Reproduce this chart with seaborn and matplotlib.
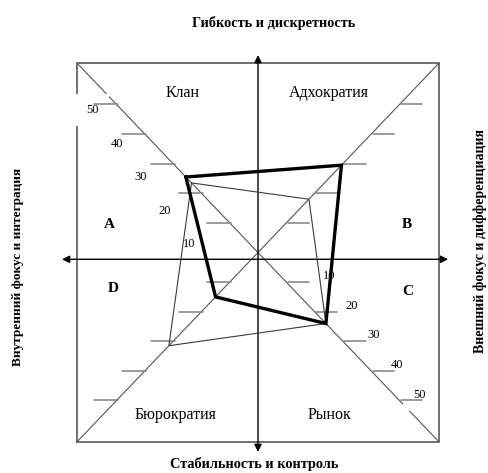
import matplotlib
matplotlib.use('Agg')
import matplotlib.pyplot as plt
import seaborn as sns
import pandas as pd

# culture types, one per diagonal (top-left, top-right, bottom-right, bottom-left)
cultures = ['Клан', 'Адхократия', 'Рынок', 'Бюрократия']
letters = ['A', 'B', 'C', 'D']
current_profile = [25.5, 29.5, 24, 15]      # thick line
preferred_profile = [23.5, 18, 24, 31.5]    # thin line
scale_ticks = [10, 20, 30, 40, 50]

title_top = 'Гибкость и дискретность'
title_bottom = 'Стабильность и контроль'
title_left = 'Внутренний фокус и интеграция'
title_right = 'Внешний фокус и дифференциация'

sns.set_style('white')
plt.rcParams['font.family'] = ['Liberation Serif', 'DejaVu Serif']
plt.rcParams['text.color'] = 'black'

directions = [(-1, 1), (1, 1), (1, -1), (-1, -1)]
half = 64


def profile_frame(values):
    xs = [d[0] * v for d, v in zip(directions, values)]
    ys = [d[1] * v for d, v in zip(directions, values)]
    xs.append(xs[0])
    ys.append(ys[0])
    return pd.DataFrame({'x': xs, 'y': ys})


fig = plt.figure(figsize=(4.88, 4.73), dpi=100)
ax = fig.add_axes([0, 0, 1, 1])

# frame and diagonals
sq = [(-half, -half), (half, -half), (half, half), (-half, half), (-half, -half)]
ax.plot([p[0] for p in sq], [p[1] for p in sq], color='#707070', lw=1.4, zorder=1)
ax.plot([-half, half], [half, -half], color='#555555', lw=0.8, zorder=1)
ax.plot([-half, half], [-half, half], color='#555555', lw=0.8, zorder=1)

# axes with arrows
ax.annotate('', xy=(0, 66.7), xytext=(0, -67.4),
            arrowprops=dict(arrowstyle='<|-|>', color='black', lw=1,
                            mutation_scale=11, shrinkA=0, shrinkB=0), zorder=2)
ax.annotate('', xy=(67.2, -2.3), xytext=(-69.3, -2.3),
            arrowprops=dict(arrowstyle='<|-|>', color='black', lw=1,
                            mutation_scale=11, shrinkA=0, shrinkB=0), zorder=2)

# scale ticks on every diagonal
for sx, sy in directions:
    for v in scale_ticks:
        if sx < 0:
            xs = [-v - 8, -v + 0.5]
        else:
            xs = [v + 0.5, v + 8]
        ax.plot(xs, [sy * v, sy * v], color='#8a8a8a', lw=1.2, zorder=3.5)

# scale labels (upper-left and lower-right diagonals)
for v in scale_ticks:
    box = dict(facecolor='white', edgecolor='none', boxstyle='square,pad=0.8') if v == 50 else None
    ax.text(-0.85 * v - 16, 1.13 * v - 8.5, str(v), fontsize=9, ha='center', va='center',
            bbox=box, zorder=3)
    ax.text(0.8 * v + 17, -v + 2, str(v), fontsize=9, ha='center', va='center',
            bbox=box, zorder=3)

# profiles
sns.lineplot(data=profile_frame(preferred_profile), x='x', y='y', sort=False, estimator=None,
             color='#3a3a3a', lw=0.8, ax=ax, zorder=4)
sns.lineplot(data=profile_frame(current_profile), x='x', y='y', sort=False, estimator=None,
             color='black', lw=2.4, ax=ax, zorder=5, solid_joinstyle='miter')
ax.set_xlim(-91.2, 81.3)
ax.set_ylim(-74.5, 85.3)
ax.axis('off')

# culture names and quadrant letters
name_pos = [(-26.5, 53.9), (25.1, 53.9), (25.1, -54.9), (-29.3, -54.9)]
for name, (x, y) in zip(cultures, name_pos):
    ax.text(x, y, name, fontsize=11.5, ha='center', va='center', zorder=3)
letter_pos = [(-52.7, 9.3), (52.7, 9.6), (53.0, -13.3), (-51.3, -12.3)]
for letter, (x, y) in zip(letters, letter_pos):
    ax.text(x, y, letter, fontsize=11, fontweight='bold', ha='center', va='center', zorder=3)

# axis titles
ax.text(5.5, 77.5, title_top, fontsize=10.3, fontweight='bold', ha='center', va='center')
ax.text(-1.4, -71.3, title_bottom, fontsize=10.4, fontweight='bold', ha='center', va='center')
ax.text(-84.9, -4.9, title_left, fontsize=9.5, fontweight='bold', rotation=90,
        ha='center', va='center')
ax.text(78.6, 3.9, title_right, fontsize=10, fontweight='bold', rotation=90,
        ha='center', va='center')

fig.savefig('out.png', dpi=100)
plt.close(fig)
